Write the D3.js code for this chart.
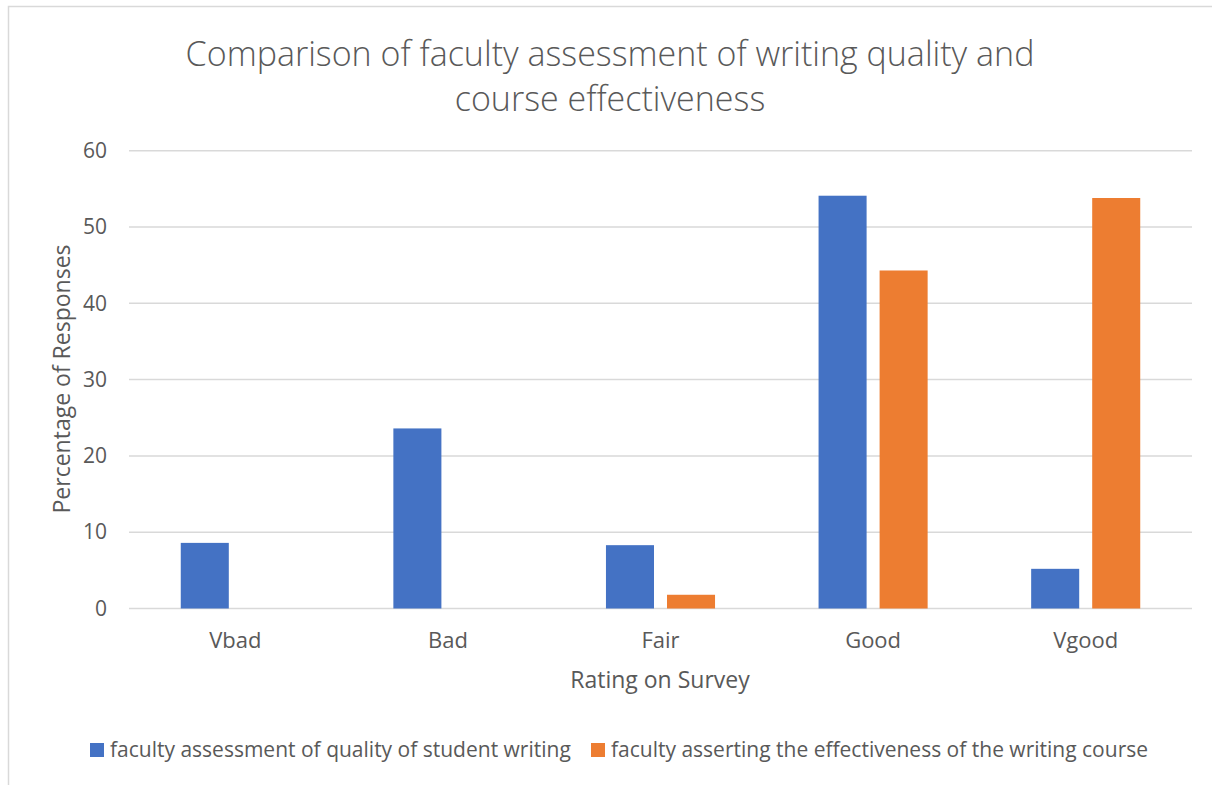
<!DOCTYPE html>
<html>
<head>
<meta charset="utf-8">
<script src="https://cdn.jsdelivr.net/npm/d3@7"></script>
<style>
  html, body { margin: 0; padding: 0; background: #fff; }
  svg { display: block; }
  text { font-family: "Open Sans", "Noto Sans", sans-serif; fill: #595959; }
</style>
</head>
<body>
<svg id="chart" width="1212" height="785"></svg>
<script>
const categories = ["Vbad", "Bad", "Fair", "Good", "Vgood"];
const seriesNames = [
  "faculty assessment of quality of student writing",
  "faculty asserting the effectiveness of the writing course"
];
const writingQuality = [8.6, 23.6, 8.3, 54.1, 5.2];
const courseEffectiveness = [0, 0, 1.8, 44.3, 53.8];
const yTicks = [0, 10, 20, 30, 40, 50, 60];
const titleLines = ["Comparison of faculty assessment of writing quality and", "course effectiveness"];
const colors = ["#4472C4", "#ED7D31"];

const seriesValues = [writingQuality, courseEffectiveness];
const data = categories.map((c, i) => ({
  category: c,
  values: seriesNames.map((s, j) => ({ series: s, idx: j, value: seriesValues[j][i] }))
}));

const svg = d3.select("#chart");

// chart border
svg.append("rect")
  .attr("x", 8.5).attr("y", 6.5)
  .attr("width", 1220).attr("height", 800)
  .attr("fill", "none").attr("stroke", "#d9d9d9").attr("stroke-width", 1.5);

const plot = { left: 129, right: 1192, top: 150.7, bottom: 608.5 };

const x0 = d3.scaleBand().domain(categories).range([plot.left, plot.right]).padding(0);
const x1 = d3.scaleBand().domain(d3.range(seriesNames.length))
  .range([0, x0.bandwidth()]).paddingInner(0.213).paddingOuter(0.848);
const y = d3.scaleLinear().domain([0, 60]).range([plot.bottom, plot.top]);

// gridlines
svg.append("g").selectAll("line").data(yTicks).join("line")
  .attr("x1", plot.left).attr("x2", plot.right)
  .attr("y1", d => y(d)).attr("y2", d => y(d))
  .attr("stroke", "#d9d9d9").attr("stroke-width", 1.5);

// y axis labels
const yAxis = d3.axisLeft(y).tickValues(yTicks).tickSize(0).tickPadding(0);
const gy = svg.append("g").attr("transform", `translate(107,0)`).call(yAxis);
gy.select(".domain").remove();
gy.selectAll("text").attr("font-size", 21).attr("fill", "#595959")
  .style("font-family", '"Open Sans", sans-serif');

// bars
const groups = svg.append("g").selectAll("g").data(data).join("g")
  .attr("transform", d => `translate(${x0(d.category)},0)`);
groups.selectAll("rect").data(d => d.values).join("rect")
  .attr("x", d => x1(d.idx))
  .attr("width", x1.bandwidth())
  .attr("y", d => y(d.value))
  .attr("height", d => y(0) - y(d.value))
  .attr("fill", d => colors[d.idx]);

// x axis labels
const xAxis = d3.axisBottom(x0).tickSize(0).tickPadding(0);
const gx = svg.append("g").attr("transform", `translate(0,${plot.bottom})`).call(xAxis);
gx.select(".domain").remove();
gx.selectAll("text").attr("font-size", 22).attr("fill", "#595959")
  .attr("dy", null).attr("y", 39.5)
  .style("font-family", '"Open Sans", sans-serif');

// titles
svg.append("text").attr("x", 610).attr("text-anchor", "middle")
  .attr("font-size", 34).attr("font-weight", 300)
  .selectAll("tspan").data(titleLines).join("tspan")
  .attr("x", 610).attr("y", (d, i) => 66 + i * 45).text(d => d);

svg.append("text").attr("x", 660).attr("y", 688).attr("text-anchor", "middle")
  .attr("font-size", 23).text("Rating on Survey");

svg.append("text").attr("transform", "translate(70,379) rotate(-90)")
  .attr("text-anchor", "middle").attr("font-size", 23).text("Percentage of Responses");

// legend
const legendX = [90, 591];
const lg = svg.append("g").selectAll("g").data(seriesNames).join("g")
  .attr("transform", (d, i) => `translate(${legendX[i]},743)`);
lg.append("rect").attr("width", 14).attr("height", 14).attr("fill", (d, i) => colors[i]);
lg.append("text").attr("x", 20).attr("y", 14).attr("font-size", 21).text(d => d);
</script>
</body>
</html>
